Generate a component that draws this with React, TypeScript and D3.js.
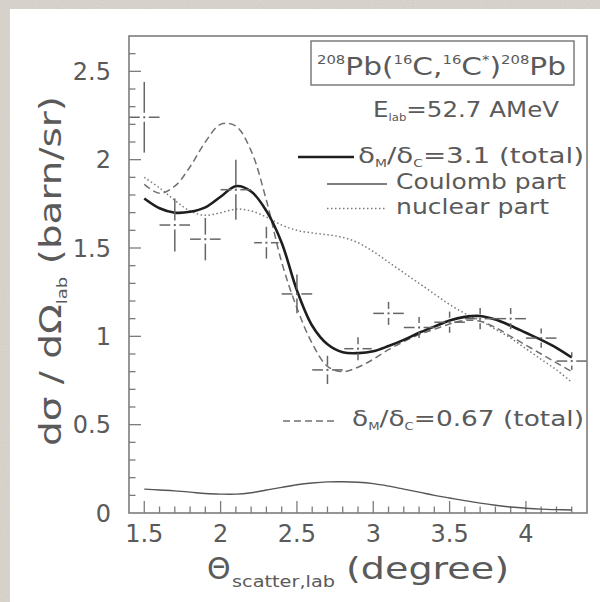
import React from "react";
import * as d3 from "d3";

// Scattering angle grid for the calculated curves (degrees, lab frame)
const theta = [
  1.5, 1.6, 1.7, 1.8, 1.9, 2.0, 2.1, 2.2, 2.3, 2.4, 2.5, 2.6, 2.7, 2.8, 2.9,
  3.0, 3.1, 3.2, 3.3, 3.4, 3.5, 3.6, 3.7, 3.8, 3.9, 4.0, 4.1, 4.2, 4.3,
];

// dσ/dΩ (barn/sr), δM/δC = 3.1 total
const totalRatio31 = [
  1.78, 1.725, 1.7, 1.705, 1.73, 1.79, 1.85, 1.82, 1.71, 1.53, 1.26, 1.06, 0.955,
  0.91, 0.905, 0.915, 0.945, 0.98, 1.02, 1.055, 1.09, 1.11, 1.115, 1.095, 1.06,
  1.02, 0.98, 0.935, 0.88,
];

// δM/δC = 0.67 total
const totalRatio067 = [
  1.86, 1.81, 1.85, 1.96, 2.1, 2.2, 2.19, 2.05, 1.77, 1.42, 1.16, 0.96, 0.83, 0.8,
  0.825, 0.87, 0.925, 0.97, 1.01, 1.04, 1.07, 1.09, 1.085, 1.05, 1.0, 0.95, 0.9,
  0.85, 0.8,
];

// Nuclear part
const nuclearPart = [
  1.9, 1.84, 1.77, 1.71, 1.685, 1.7, 1.72, 1.71, 1.675, 1.63, 1.6, 1.585, 1.575,
  1.56, 1.53, 1.48, 1.42, 1.36, 1.3, 1.24, 1.18, 1.13, 1.09, 1.04, 0.99, 0.93,
  0.87, 0.81, 0.74,
];

// Coulomb part
const coulombPart = [
  0.135, 0.13, 0.125, 0.118, 0.11, 0.107, 0.107, 0.115, 0.13, 0.145, 0.16, 0.17,
  0.176, 0.177, 0.174, 0.166, 0.152, 0.135, 0.118, 0.1, 0.085, 0.07, 0.056,
  0.044, 0.034, 0.027, 0.022, 0.019, 0.017,
];

// Measured cross sections with errors
const dataTheta = [1.5, 1.7, 1.9, 2.1, 2.3, 2.5, 2.7, 2.9, 3.1, 3.3, 3.5, 3.7, 3.9, 4.1, 4.3];
const dataSigma = [2.24, 1.63, 1.55, 1.83, 1.53, 1.24, 0.81, 0.93, 1.13, 1.05, 1.08, 1.1, 1.1, 0.99, 0.86];
const dataSigmaErr = [0.2, 0.15, 0.12, 0.17, 0.09, 0.11, 0.08, 0.065, 0.065, 0.06, 0.06, 0.06, 0.06, 0.055, 0.05];
const dataThetaErr = [0.1, 0.1, 0.1, 0.1, 0.08, 0.1, 0.1, 0.09, 0.1, 0.1, 0.1, 0.1, 0.1, 0.1, 0.1];

// Axis ticks
const xTickLabels = ["1.5", "2", "2.5", "3", "3.5", "4"];
const yTickLabels = ["0", "0.5", "1", "1.5", "2", "2.5"];
const xDomain = [1.4, 4.4];
const yDomain = [0, 2.7];

const FONT = "'DejaVu Sans', 'Liberation Sans', sans-serif";
const TEXT = "#5a5a5a";
const FRAME = "#7c7c7c";

export default function App() {
  const x = d3.scaleLinear().domain(xDomain).range([129, 587]);
  const y = d3.scaleLinear().domain(yDomain).range([513, 36]);

  const line = (vals: number[]) =>
    d3
      .line<number>()
      .x((_, i) => x(theta[i]))
      .y((v) => y(v))
      .curve(d3.curveCatmullRom.alpha(0.5))(vals) || "";

  const xMinor = d3.range(15, 44).map((i) => i / 10);
  const yMinor = d3.range(1, 27).map((i) => i / 10);
  const isMajor = (v: number) => Math.abs(v * 2 - Math.round(v * 2)) < 1e-6;

  const gap = 4.5;

  return (
    <svg
      width={600}
      height={602}
      style={{ position: "absolute", left: 0, top: 0 }}
      fontFamily={FONT}
    >
      <defs>
        <filter id="grain" x="0" y="0" width="100%" height="100%">
          <feTurbulence type="fractalNoise" baseFrequency="0.9" numOctaves="2" seed="7" result="n" />
          <feColorMatrix
            in="n"
            type="matrix"
            values="0 0 0 0 0.45  0 0 0 0 0.43  0 0 0 0 0.4  0.6 0.6 0 0 -0.45"
          />
        </filter>
        <clipPath id="plotClip">
          <rect x={x(xDomain[0])} y={y(yDomain[1])} width={x(xDomain[1]) - x(xDomain[0])} height={y(0) - y(yDomain[1])} />
        </clipPath>
      </defs>

      {/* paper and frame */}
      <rect x={0} y={0} width={600} height={602} fill="#d9d5ce" />
      <rect x={0} y={0} width={600} height={602} filter="url(#grain)" opacity={0.5} />
      <rect x={10} y={9} width={590} height={593} fill="#ffffff" />

      {/* axis ticks */}
      <g stroke={FRAME} strokeWidth={1.3}>
        {xMinor.map((v) => (
          <line key={"xt" + v} x1={x(v)} x2={x(v)} y1={y(0)} y2={y(0) - (isMajor(v) ? 12 : 6.5)} />
        ))}
        {yMinor.map((v) => (
          <line key={"yt" + v} x1={x(xDomain[0])} x2={x(xDomain[0]) + (isMajor(v) ? 12 : 6.5)} y1={y(v)} y2={y(v)} />
        ))}
      </g>

      {/* tick labels */}
      <g fill={TEXT} fontSize={24}>
        {xTickLabels.map((t) => (
          <text key={"xl" + t} x={x(+t)} y={542} textAnchor="middle">
            {t}
          </text>
        ))}
        {yTickLabels.map((t) => (
          <text key={"yl" + t} x={111} y={y(+t)} dy="0.36em" textAnchor="end">
            {t}
          </text>
        ))}
      </g>

      {/* curves */}
      <g clipPath="url(#plotClip)" fill="none">
        <path d={line(coulombPart)} stroke="#555" strokeWidth={1.4} />
        <path d={line(nuclearPart)} stroke="#7a7a7a" strokeWidth={1.5} strokeDasharray="1.5 2.5" />
        <path d={line(totalRatio067)} stroke="#707070" strokeWidth={1.5} strokeDasharray="7 4" />
        <path d={line(totalRatio31)} stroke="#1e1e1e" strokeWidth={2.6} />

        {/* measured points */}
        <g stroke="#666" strokeWidth={1.5}>
          {dataTheta.map((t, i) => {
            const cx = x(t);
            const cy = y(dataSigma[i]);
            const xl = x(t - dataThetaErr[i]);
            const xr = x(t + dataThetaErr[i]);
            const yt = y(dataSigma[i] + dataSigmaErr[i]);
            const yb = y(dataSigma[i] - dataSigmaErr[i]);
            return (
              <g key={"pt" + i}>
                <line x1={xl} x2={cx - gap} y1={cy} y2={cy} />
                <line x1={cx + gap} x2={xr} y1={cy} y2={cy} />
                <line x1={cx} x2={cx} y1={yt} y2={cy - gap} />
                <line x1={cx} x2={cx} y1={cy + gap} y2={yb} />
                <rect x={cx - 1} y={cy - 1} width={2} height={2} fill="#666" stroke="none" />
              </g>
            );
          })}
        </g>
      </g>

      {/* plot frame */}
      <rect
        x={x(xDomain[0])}
        y={y(yDomain[1])}
        width={x(xDomain[1]) - x(xDomain[0])}
        height={y(0) - y(yDomain[1])}
        fill="none"
        stroke={FRAME}
        strokeWidth={1.6}
      />

      {/* reaction box */}
      <rect x={311} y={41} width={263} height={44} fill="#fff" stroke={FRAME} strokeWidth={1.5} />
      <text x={317} y={75} fontSize={24} fill={TEXT} textLength={249} lengthAdjust="spacingAndGlyphs">
        <tspan fontSize={12} dy={-11}>208</tspan>
        <tspan dy={11}>Pb(</tspan>
        <tspan fontSize={12} dy={-11}>16</tspan>
        <tspan dy={11}>C,</tspan>
        <tspan fontSize={12} dy={-11}>16</tspan>
        <tspan dy={11}>C</tspan>
        <tspan fontSize={12} dy={-11}>*</tspan>
        <tspan dy={11}>)</tspan>
        <tspan fontSize={12} dy={-11}>208</tspan>
        <tspan dy={11}>Pb</tspan>
      </text>

      <text x={373} y={117} fontSize={21} fill={TEXT} textLength={186} lengthAdjust="spacingAndGlyphs">
        E<tspan fontSize={10} dy={4}>lab</tspan>
        <tspan dy={-4}>=52.7 AMeV</tspan>
      </text>

      {/* legend */}
      <line x1={298} x2={354} y1={157} y2={157} stroke="#1e1e1e" strokeWidth={2.6} />
      <text x={358} y={163} fontSize={22} fill={TEXT} textLength={226} lengthAdjust="spacingAndGlyphs">
        δ<tspan fontSize={11} dy={4}>M</tspan>
        <tspan dy={-4}>/δ</tspan>
        <tspan fontSize={11} dy={4}>C</tspan>
        <tspan dy={-4}>=3.1 (total)</tspan>
      </text>

      <line x1={327} x2={387} y1={184} y2={184} stroke="#555" strokeWidth={1.4} />
      <text x={396} y={189} fontSize={22} fill={TEXT} textLength={170} lengthAdjust="spacingAndGlyphs">
        Coulomb part
      </text>

      <line x1={327} x2={387} y1={208.5} y2={208.5} stroke="#7a7a7a" strokeWidth={1.5} strokeDasharray="1.5 2.5" />
      <text x={396} y={213.5} fontSize={22} fill={TEXT} textLength={153} lengthAdjust="spacingAndGlyphs">
        nuclear part
      </text>

      <line x1={283} x2={337} y1={421} y2={421} stroke="#707070" strokeWidth={1.5} strokeDasharray="7 4" />
      <text x={352} y={426} fontSize={22} fill={TEXT} textLength={232} lengthAdjust="spacingAndGlyphs">
        δ<tspan fontSize={11} dy={4}>M</tspan>
        <tspan dy={-4}>/δ</tspan>
        <tspan fontSize={11} dy={4}>C</tspan>
        <tspan dy={-4}>=0.67 (total)</tspan>
      </text>

      {/* x axis title */}
      <text x={207} y={579} fontSize={30} fill={TEXT}>
        Θ
      </text>
      <text x={232} y={587} fontSize={15} fill={TEXT} textLength={103} lengthAdjust="spacingAndGlyphs">
        scatter,lab
      </text>
      <text x={346} y={579} fontSize={30} fill={TEXT} textLength={163} lengthAdjust="spacingAndGlyphs">
        (degree)
      </text>

      {/* y axis title */}
      <g transform="translate(61,446) rotate(-90)">
        <text x={0} y={0} fontSize={30} fill={TEXT} textLength={350} lengthAdjust="spacingAndGlyphs">
          dσ / dΩ<tspan fontSize={14} dy={6}>lab</tspan>
          <tspan dy={-6}> (barn/sr)</tspan>
        </text>
      </g>
    </svg>
  );
}
